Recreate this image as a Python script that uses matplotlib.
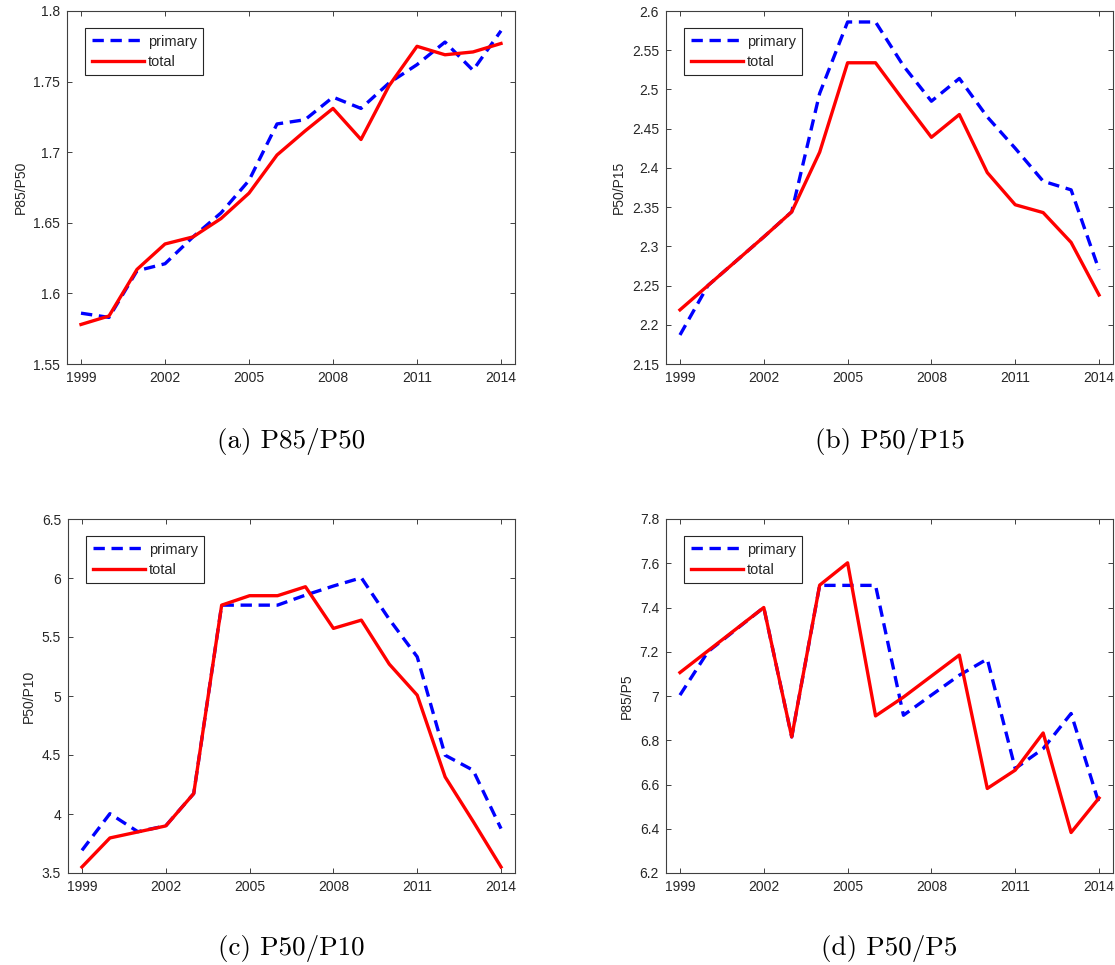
import matplotlib
matplotlib.use("Agg")
import matplotlib.pyplot as plt
import numpy as np

years = list(range(1999, 2015))

# (a) P85/P50
a_primary = [1.586, 1.583, 1.616, 1.621, 1.640, 1.657, 1.680, 1.720, 1.723, 1.739, 1.731, 1.749, 1.762, 1.778, 1.758, 1.786]
a_total   = [1.578, 1.584, 1.617, 1.635, 1.640, 1.653, 1.671, 1.698, 1.715, 1.731, 1.709, 1.747, 1.775, 1.769, 1.771, 1.777]

# (b) P50/P15
b_primary = [2.187, 2.250, 2.281, 2.312, 2.344, 2.495, 2.586, 2.586, 2.530, 2.485, 2.514, 2.465, 2.425, 2.383, 2.372, 2.270]
b_total   = [2.219, 2.250, 2.281, 2.312, 2.344, 2.420, 2.534, 2.534, 2.486, 2.439, 2.468, 2.394, 2.353, 2.343, 2.305, 2.238]

# (c) P50/P10
c_primary = [3.692, 4.003, 3.850, 3.900, 4.173, 5.770, 5.770, 5.770, 5.855, 5.932, 6.002, 5.650, 5.332, 4.498, 4.371, 3.876]
c_total   = [3.551, 3.797, 3.848, 3.899, 4.173, 5.770, 5.850, 5.850, 5.926, 5.573, 5.643, 5.270, 5.007, 4.314, 3.938, 3.551]

# (d) P85/P5
d_primary = [7.004, 7.200, 7.300, 7.400, 6.815, 7.500, 7.500, 7.500, 6.913, 7.004, 7.094, 7.167, 6.672, 6.762, 6.921, 6.514]
d_total   = [7.106, 7.204, 7.302, 7.400, 6.815, 7.501, 7.602, 6.910, 6.995, 7.090, 7.185, 6.582, 6.665, 6.833, 6.383, 6.539]

ylabels = ["P85/P50", "P50/P15", "P50/P10", "P85/P5"]
captions = ["(a) P85/P50", "(b) P50/P15", "(c) P50/P10", "(d) P50/P5"]
ylims = [(1.55, 1.8), (2.15, 2.6), (3.5, 6.5), (6.2, 7.8)]
yticks = [
    [1.55, 1.6, 1.65, 1.7, 1.75, 1.8],
    [2.15, 2.2, 2.25, 2.3, 2.35, 2.4, 2.45, 2.5, 2.55, 2.6],
    [3.5, 4, 4.5, 5, 5.5, 6, 6.5],
    [6.2, 6.4, 6.6, 6.8, 7, 7.2, 7.4, 7.6, 7.8],
]
ytick_labels = [
    ["1.55", "1.6", "1.65", "1.7", "1.75", "1.8"],
    ["2.15", "2.2", "2.25", "2.3", "2.35", "2.4", "2.45", "2.5", "2.55", "2.6"],
    ["3.5", "4", "4.5", "5", "5.5", "6", "6.5"],
    ["6.2", "6.4", "6.6", "6.8", "7", "7.2", "7.4", "7.6", "7.8"],
]
xticks = [1999, 2002, 2005, 2008, 2011, 2014]

plt.rcParams['font.family'] = ['Liberation Sans', 'DejaVu Sans']

W, H = 1115, 965
fig = plt.figure(figsize=(W / 100, H / 100), dpi=100)

# axes pixel boxes: left, top, right, bottom
boxes = [(67, 11, 515, 364), (666, 11, 1113, 364), (68, 519, 515, 873), (666, 519, 1113, 873)]
cap_y = [442, 442, 948, 948]

series = [(a_primary, a_total), (b_primary, b_total), (c_primary, c_total), (d_primary, d_total)]
txtcol = '#262626'

for i, (l, t, r, b) in enumerate(boxes):
    ax = fig.add_axes([l / W, 1 - b / H, (r - l) / W, (b - t) / H])
    p, tot = series[i]
    ax.plot(years, p, color='#0000ff', lw=2.4, ls=(0, (3.4, 2.0)), label='primary')
    ax.plot(years, tot, color='#ff0000', lw=2.4, label='total')
    ax.set_xlim(1998.5, 2014.5)
    ax.set_ylim(*ylims[i])
    ax.set_xticks(xticks)
    ax.set_xticklabels([str(x) for x in xticks])
    ax.set_yticks(yticks[i])
    ax.set_yticklabels(ytick_labels[i])
    ax.tick_params(direction='in', length=3.5, width=0.7, top=True, right=True,
                   labelsize=10, colors='#404040', labelcolor=txtcol, pad=5)
    for s in ax.spines.values():
        s.set_linewidth(0.8)
        s.set_color('#404040')
    ax.set_ylabel(ylabels[i], fontsize=10, color=txtcol, labelpad=4)
    leg = ax.legend(loc='upper left', bbox_to_anchor=(18 / (r - l), 1 - 17 / (b - t)),
                    borderaxespad=0, fontsize=10.5, handlelength=3.6, handletextpad=0.25,
                    labelspacing=0.42, borderpad=0.45, fancybox=False, framealpha=1,
                    edgecolor='#262626')
    leg.get_frame().set_linewidth(0.8)
    for txt in leg.get_texts():
        txt.set_color(txtcol)
    fig.text(((l + r) / 2) / W, 1 - cap_y[i] / H, captions[i], family='cmr10',
             fontsize=19.5, ha='center', va='center', color='black')

fig.savefig('out.png', dpi=100)
